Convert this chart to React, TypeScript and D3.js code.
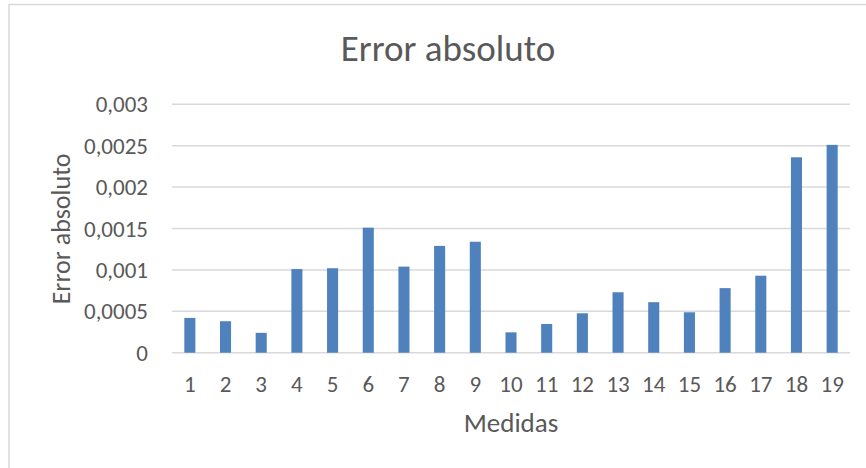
import React from 'react';
import * as d3 from 'd3';

// Chart data
const categories = ['1', '2', '3', '4', '5', '6', '7', '8', '9', '10', '11', '12', '13', '14', '15', '16', '17', '18', '19'];
const errorValues = [
  0.00042, 0.00038, 0.00024, 0.00101, 0.00102, 0.00151, 0.00104, 0.00129, 0.00134,
  0.000246, 0.000347, 0.000476, 0.00073, 0.00061, 0.000488, 0.00078, 0.00093, 0.00236, 0.00251,
];
const yTicks = [0, 0.0005, 0.001, 0.0015, 0.002, 0.0025, 0.003];
const chartTitle = 'Error absoluto';
const xTitle = 'Medidas';
const yTitle = 'Error absoluto';

const WIDTH = 866;
const HEIGHT = 468;
const FONT = "Carlito, Calibri, Lato, 'Liberation Sans', sans-serif";
const TEXT = '#595959';
const GRID = '#D9D9D9';
const BAR = '#4F81BD';

const esLocale = d3.formatLocale({ decimal: ',', thousands: '.', grouping: [3], currency: ['', ' €'] });
const fmt = esLocale.format('~f');

export default function App() {
  const plot = { left: 172, right: 850, top: 104.3, bottom: 352.7 };

  const x = d3.scaleBand<string>()
    .domain(categories)
    .range([plot.left, plot.right])
    .paddingInner(0.69)
    .paddingOuter(0.345);

  const y = d3.scaleLinear()
    .domain([0, 0.003])
    .range([plot.bottom, plot.top]);

  const data = categories.map((c, i) => ({ cat: c, value: errorValues[i] }));

  return (
    <svg
      width={WIDTH}
      height={HEIGHT}
      style={{ position: 'absolute', left: 0, top: 0, background: '#fff' }}
      fontFamily={FONT}
    >
      {/* chart area border, runs off the right and bottom edges */}
      <rect x={9} y={4.5} width={900} height={500} fill="#fff" stroke={GRID} strokeWidth={1.5} />

      <text x={448} y={61} textAnchor="middle" fontSize={37} fill={TEXT}>{chartTitle}</text>

      {/* gridlines + y tick labels */}
      {yTicks.map(t => (
        <g key={t}>
          <line x1={plot.left} x2={plot.right} y1={y(t)} y2={y(t)} stroke={GRID} strokeWidth={1.5} />
          <text x={148} y={y(t)} dy="0.35em" textAnchor="end" fontSize={23} fill={TEXT}>{fmt(t)}</text>
        </g>
      ))}

      {/* bars */}
      {data.map(d => (
        <rect
          key={d.cat}
          x={x(d.cat)}
          y={y(d.value)}
          width={x.bandwidth()}
          height={y(0) - y(d.value)}
          fill={BAR}
        />
      ))}

      {/* x tick labels */}
      {categories.map(c => (
        <text key={c} x={(x(c) || 0) + x.bandwidth() / 2} y={392} textAnchor="middle" fontSize={23} fill={TEXT}>{c}</text>
      ))}

      <text x={(plot.left + plot.right) / 2} y={432} textAnchor="middle" fontSize={27} fill={TEXT}>{xTitle}</text>
      <text transform="translate(70,229) rotate(-90)" textAnchor="middle" fontSize={26} fill={TEXT}>{yTitle}</text>
    </svg>
  );
}
